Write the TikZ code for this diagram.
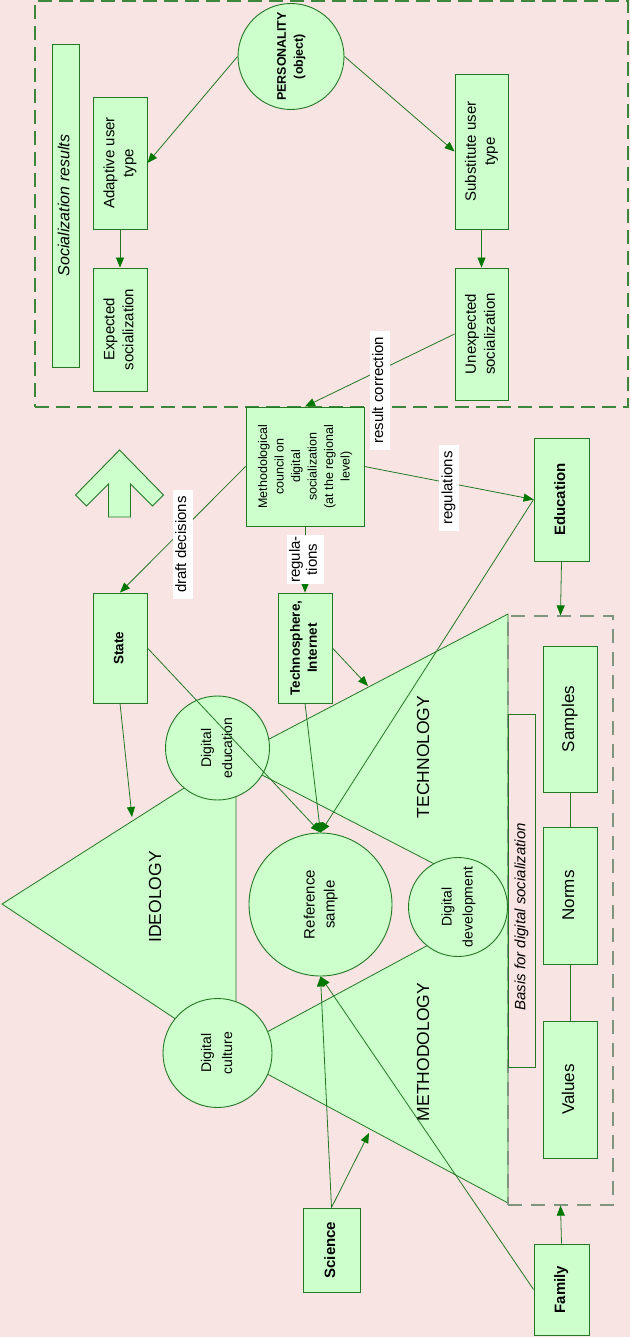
\documentclass[tikz,border=0pt]{standalone}
\usepackage{fontspec}
\setmainfont{Liberation Sans}
\usetikzlibrary{arrows.meta}
\definecolor{bg}{RGB}{249,228,228}
\definecolor{gfill}{RGB}{204,255,204}
\definecolor{gline}{RGB}{36,120,36}
\definecolor{gtip}{RGB}{0,120,0}
\definecolor{gdash}{RGB}{60,135,60}
\definecolor{gdashb}{RGB}{125,150,125}
\newcommand{\rt}[1]{\rotatebox{90}{\begin{tabular}{@{}c@{}}#1\end{tabular}}}
\newcommand{\fs}[2]{\fontsize{#1}{#2}\selectfont}
\begin{document}
\begin{tikzpicture}[x=1pt,y=-1pt,
 box/.style={draw=gline, fill=gfill, line width=0.9pt, inner sep=0pt, font=\fs{15}{19}},
 bbox/.style={box, font=\bfseries\fs{15}{18}},
 blob/.style={circle, draw=gline, fill=gfill, line width=0.9pt, inner sep=0pt, font=\fs{14}{21}},
 tri/.style={draw=gline, fill=gfill, line width=0.8pt},
 con/.style={draw=gline, line width=0.8pt},
 arr/.style={con, -{Triangle[length=10pt,width=8pt,color=gtip]}},
 lab/.style={fill=white, inner xsep=1.5pt, inner ysep=6pt, font=\fs{15}{17}},
 big/.style={font=\fs{17.5}{20}},
 dashbox/.style={draw=gdash, line width=1.2pt, dash pattern=on 14pt off 7pt, inner sep=0pt},
]
\fill[bg] (0,0) rectangle (630,1337);
\useasboundingbox (0,0) rectangle (630,1337);

% triangles
\filldraw[tri] (2,904) -- (236,755) -- (236,1059) -- cycle;
\filldraw[tri] (231,759) -- (508,614) -- (508,902) -- cycle;
\filldraw[tri] (228,1053) -- (508,902) -- (508,1203) -- cycle;
\node[big] (ideot) at (157,897) {\rt{IDEOLOGY}};
\node[big] (techt) at (425,757) {\rt{TECHNOLOGY}};
\node[big] (metht) at (425,1052) {\rt{METHODOLOGY}};

% dashed frames
\node[dashbox, minimum width=593pt, minimum height=406pt] (topbox) at (331.5,204) {};
\node[dashbox, draw=gdashb, dash pattern=on 14pt off 9pt, minimum width=105pt, minimum height=589pt] (lowbox) at (560.5,910.5) {};
\node[draw=gline, line width=0.8pt, minimum width=27pt, minimum height=353pt, inner sep=0pt] (basisbox) at (521.5,890.5) {};
\node[font=\itshape\fs{15}{17}] (basist) at (522,917) {\rt{Basis for digital socialization}};

% upper block
\node[blob, font=\bfseries\fs{12.5}{17}, minimum size=106pt] (pers) at (291,56.5) {\rt{PERSONALITY\\(object)}};
\node[box, font=\itshape\fs{16}{19}, minimum width=27pt, minimum height=323pt] (socres) at (65.5,205.5) {\rt{Socialization results}};
\node[box, minimum width=54pt, minimum height=132pt] (adapt) at (120,163) {\rt{Adaptive user\\type}};
\node[box, minimum width=54pt, minimum height=123pt] (expect) at (120,329.5) {\rt{Expected\\socialization}};
\node[box, minimum width=53pt, minimum height=155pt] (subst) at (481.5,151.5) {\rt{Substitute user\\type}};
\node[box, minimum width=53pt, minimum height=132pt] (unexp) at (481.5,334) {\rt{Unexpected\\socialization}};

% middle
\node[box, font=\fs{12.5}{16.5}, minimum width=118pt, minimum height=119pt] (council) at (305,466.5)
  {\rt{Methodological\\council on\\digital\\socialization\\(at the regional\\level)}};
\node[bbox, font=\bfseries\fs{13.5}{17}, minimum width=54pt, minimum height=110pt] (state) at (120,648) {\rt{State}};
\node[bbox, font=\bfseries\fs{13.5}{17}, minimum width=54pt, minimum height=110pt] (techno) at (305,648) {\rt{Technosphere,\\Internet}};
\node[bbox, minimum width=55pt, minimum height=123pt] (edu) at (561.5,499.5) {\rt{Education}};
\filldraw[tri, line width=0.9pt] (119.5,450) -- (163.5,495) -- (152.5,506) -- (130.5,484) -- (130.5,517)
  -- (108.5,517) -- (108.5,484) -- (86.5,506) -- (75.5,495) -- cycle;

% circles
\node[blob, minimum size=104pt] (digedu) at (217.5,748) {\rt{Digital\\education}};
\node[blob, minimum size=109pt] (digcult) at (217.5,1053) {\rt{Digital\\culture}};
\node[blob, font=\fs{15}{20}, minimum size=143pt] (refs) at (320.5,904.5) {\rt{Reference\\sample}};
\node[blob, minimum size=99pt] (digdev) at (458,907) {\rt{Digital\\development}};

% right column
\node[box, font=\fs{17}{20}, minimum width=54pt, minimum height=146pt] (samples) at (570,719) {\rt{Samples}};
\node[box, font=\fs{17}{20}, minimum width=54pt, minimum height=137pt] (norms) at (570,895.5) {\rt{Norms}};
\node[box, font=\fs{17}{20}, minimum width=54pt, minimum height=137pt] (values) at (570,1089.5) {\rt{Values}};

% bottom
\node[bbox, minimum width=57pt, minimum height=84pt] (science) at (331.5,1250) {\rt{Science}};
\node[bbox, minimum width=55pt, minimum height=91pt] (family) at (561.5,1289.5) {\rt{Family}};

\coordinate (ideo) at (132,817);
\coordinate (techtri) at (368,686);
\coordinate (methtri) at (369,1133);

% connectors
\draw[arr] (pers.west) -- (adapt.east);
\draw[arr] (pers.east) -- (subst.west);
\draw[arr] (adapt.south) -- (expect.north);
\draw[arr] (subst.south) -- (unexp.north);
\draw[arr] (unexp.west) -- (council.north) node[lab, pos=0.5, yshift=-20pt] {\rt{result correction}};
\draw[arr] (council.west) -- (state.north) node[lab, pos=0.5, yshift=-15pt] {\rt{draft decisions}};
\draw[arr] (council.south) -- (techno.north) node[lab, pos=0.5, inner ysep=1pt] {\rt{regula-\\tions}};
\draw[arr] (council.east) -- (edu.west) node[lab, pos=0.5, yshift=-5pt] {\rt{regulations}};
\draw[arr] (edu.south) -- (lowbox.north);
\draw[arr] (family.north) -- (lowbox.south);
\draw[arr] (state.south) -- (ideo);
\draw[arr] (techno.east) -- (techtri);
\draw[arr] (state.east) -- (refs.north);
\draw[arr] (techno.south) -- (refs.north);
\draw[arr] (edu.west) -- (refs.north);
\draw[arr] (science.north) -- (refs.south);
\draw[arr] (science.north) -- (methtri);
\draw[arr] (family.west) -- (refs.south);
\draw[con] (samples.south) -- (norms.north);
\draw[con] (norms.south) -- (values.north);
\end{tikzpicture}
\end{document}
